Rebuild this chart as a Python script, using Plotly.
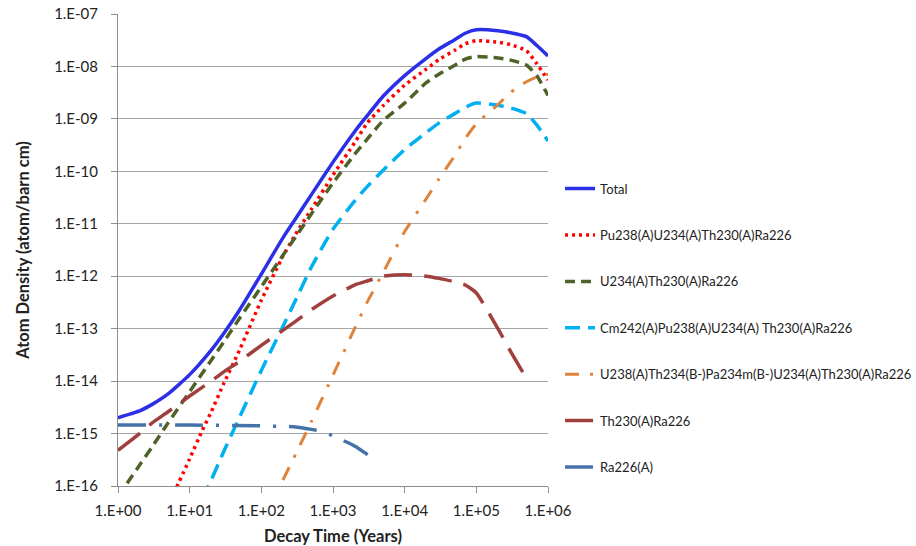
import plotly.graph_objects as go

# Decay time grid (years) and atom densities (atom/barn cm) per chain
t_total = [1, 2, 3, 5, 10, 20, 30, 50, 100, 200, 300, 500, 1000, 2000, 3000, 5000,
           1e4, 2e4, 3e4, 5e4, 7e4, 1e5, 2e5, 3e5, 5e5, 7e5, 1e6]
total = [2.0e-15, 2.7e-15, 3.6e-15, 5.7e-15, 1.33e-14, 3.9e-14, 8.2e-14, 2.3e-13,
         1.1e-12, 5.4e-12, 1.25e-11, 3.6e-11, 1.5e-10, 5.7e-10, 1.15e-9, 2.7e-9,
         6.7e-9, 1.43e-8, 2.15e-8, 3.24e-8, 4.3e-8, 5.0e-8, 4.8e-8, 4.4e-8, 3.7e-8,
         2.5e-8, 1.58e-8]

t_pu238 = [6, 10, 15, 20, 30, 50, 100, 200, 300, 500, 1000, 2000, 3000, 5000,
           1e4, 2e4, 3e4, 5e4, 7e4, 1e5, 2e5, 3e5, 5e5, 7e5, 1e6]
pu238 = [7.2e-17, 3.3e-16, 1.15e-15, 2.6e-15, 9.1e-15, 4.0e-14, 3.5e-13, 2.4e-12, 6.3e-12,
         1.9e-11, 8.5e-11, 3.5e-10, 8.3e-10, 1.78e-9, 4.4e-9, 8.9e-9, 1.35e-8, 2.04e-8,
         2.7e-8, 3.1e-8, 2.9e-8, 2.6e-8, 2.0e-8, 1.12e-8, 5.5e-9]

t_u234 = [1, 2, 3, 5, 10, 20, 30, 50, 100, 200, 300, 500, 1000, 2000, 3000, 5000,
          1e4, 2e4, 3e4, 5e4, 7e4, 1e5, 2e5, 3e5, 5e5, 7e5, 1e6]
u234 = [6.3e-17, 2.5e-16, 5.6e-16, 1.6e-15, 6.3e-15, 2.5e-14, 5.6e-14, 1.6e-13, 6.3e-13,
        2.5e-12, 5.6e-12, 1.55e-11, 6.0e-11, 2.1e-10, 4.1e-10, 9.3e-10, 2.0e-9, 4.9e-9,
        7.1e-9, 1.05e-8, 1.38e-8, 1.55e-8, 1.45e-8, 1.32e-8, 1.07e-8, 6.6e-9, 2.8e-9]

t_cm242 = [15, 20, 30, 50, 100, 200, 300, 500, 1000, 2000, 3000, 5000,
           1e4, 2e4, 3e4, 5e4, 7e4, 1e5, 2e5, 3e5, 5e5, 7e5, 1e6]
cm242 = [5.6e-17, 1.3e-16, 4.6e-16, 2.1e-15, 1.6e-14, 1.1e-13, 3.5e-13, 1.5e-12, 7.9e-12,
         2.7e-11, 5.1e-11, 1.05e-10, 2.6e-10, 5.5e-10, 8.3e-10, 1.26e-9, 1.66e-9, 2.0e-9,
         1.82e-9, 1.62e-9, 1.26e-9, 7.6e-10, 3.8e-10]

t_u238 = [200, 300, 500, 1000, 2000, 3000, 5000, 1e4, 2e4, 3e4, 5e4, 7e4,
          1e5, 2e5, 3e5, 5e5, 7e5, 1e6]
u238 = [1.3e-16, 4.0e-16, 1.7e-15, 1.3e-14, 1.0e-13, 3.2e-13, 1.17e-12, 7.1e-12, 3.0e-11,
        7.1e-11, 2.0e-10, 4.2e-10, 8.1e-10, 1.86e-9, 3.2e-9, 5.1e-9, 6.3e-9, 7.1e-9]

t_th230 = [1, 2, 3, 5, 10, 20, 30, 50, 100, 200, 300, 500, 1000, 2000, 3000, 5000,
           1e4, 2e4, 3e4, 5e4, 7e4, 1e5, 2e5, 3e5, 5e5]
th230 = [4.8e-16, 1.0e-15, 1.6e-15, 2.6e-15, 5.2e-15, 1.0e-14, 1.5e-14, 2.4e-14, 4.8e-14,
         9.3e-14, 1.38e-13, 2.3e-13, 4.2e-13, 6.8e-13, 8.1e-13, 1.0e-12, 1.07e-12, 1.0e-12,
         9.1e-13, 7.8e-13, 6.8e-13, 4.8e-13, 1.0e-13, 3.7e-14, 1.12e-14]

t_ra226 = [1, 10, 100, 200, 300, 500, 700, 1000, 2000, 3000, 3500]
ra226 = [1.45e-15, 1.45e-15, 1.4e-15, 1.37e-15, 1.34e-15, 1.2e-15, 1.1e-15, 9.0e-16,
         5.8e-16, 4.0e-16, 3.4e-16]

x_tickvals = [1, 10, 100, 1e3, 1e4, 1e5, 1e6]
x_ticktext = ["1.E+00", "1.E+01", "1.E+02", "1.E+03", "1.E+04", "1.E+05", "1.E+06"]
y_tickvals = [1e-16, 1e-15, 1e-14, 1e-13, 1e-12, 1e-11, 1e-10, 1e-9, 1e-8, 1e-7]
y_ticktext = ["1.E-16", "1.E-15", "1.E-14", "1.E-13", "1.E-12", "1.E-11", "1.E-10",
              "1.E-09", "1.E-08", "1.E-07"]

series = [
    ("Total", t_total, total, dict(color="#2B2FE6", width=3.5)),
    ("Pu238(A)U234(A)Th230(A)Ra226", t_pu238, pu238,
     dict(color="#FF0000", width=3.5, dash="3px,4px")),
    ("U234(A)Th230(A)Ra226", t_u234, u234,
     dict(color="#4F6228", width=3.5, dash="10px,6px")),
    ("Cm242(A)Pu238(A)U234(A) Th230(A)Ra226", t_cm242, cm242,
     dict(color="#00B0F0", width=3.5, dash="15px,8px")),
    ("U238(A)Th234(B-)Pa234m(B-)U234(A)Th230(A)Ra226", t_u238, u238,
     dict(color="#E0833A", width=3, dash="14px,11px,3px,11px")),
    ("Th230(A)Ra226", t_th230, th230,
     dict(color="#A0403E", width=3.5, dash="28px,12px")),
    ("Ra226(A)", t_ra226, ra226,
     dict(color="#4672AA", width=3.5, dash="28px,13px,3px,13px")),
]

fig = go.Figure()
for i, (name, t, v, line) in enumerate(series):
    fig.add_trace(go.Scatter(
        x=t, y=v, name=name, mode="lines",
        line=dict(shape="spline", smoothing=0.5, **line),
        legendgroup=f"g{i}",
    ))

font_family = "Lato, 'Open Sans', sans-serif"
fig.update_layout(
    width=916, height=546,
    margin=dict(l=118, r=368, t=14, b=60, autoexpand=False),
    paper_bgcolor="white", plot_bgcolor="white",
    font=dict(family=font_family, size=13, color="#222222"),
    showlegend=True,
    legend=dict(
        xref="container", yref="container",
        x=0.6114, y=0.682, xanchor="left", yanchor="top",
        font=dict(size=13, color="#222222"),
        tracegroupgap=26.5, bgcolor="rgba(0,0,0,0)",
        maxheight=500,
    ),
    xaxis=dict(
        type="log", range=[0, 6], automargin=False,
        tickvals=x_tickvals, ticktext=x_ticktext,
        showgrid=False, showline=True, linecolor="#8C8C8C", linewidth=1,
        ticks="outside", ticklen=6, tickcolor="#8C8C8C",
        tickfont=dict(size=15), ticklabelstandoff=5,
        title=dict(text="<b>Decay Time (Years)</b>", font=dict(size=16.5), standoff=12),
        zeroline=False,
    ),
    yaxis=dict(
        type="log", range=[-16, -7], automargin=False,
        tickvals=y_tickvals, ticktext=y_ticktext,
        showgrid=True, gridcolor="#A6A6A6", gridwidth=1,
        showline=True, linecolor="#8C8C8C", linewidth=1,
        ticks="outside", ticklen=6, tickcolor="#8C8C8C",
        tickfont=dict(size=15), ticklabelstandoff=10,
        title=dict(text="<b>Atom Density (atom/barn cm)</b>", font=dict(size=16.5), standoff=20),
        zeroline=False,
    ),
)

fig.write_html("out.html")
